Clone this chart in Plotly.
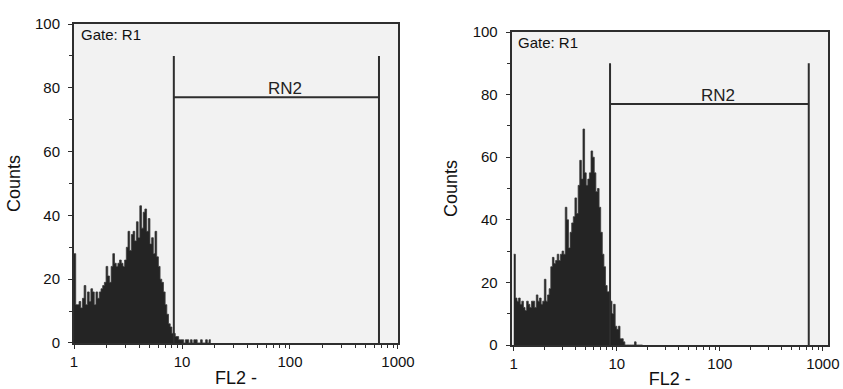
import math
import plotly.graph_objects as go

# Histogram counts per channel (64 channels per decade, starting at FL2 = 1)
channels_per_decade = 64
counts_left = [28, 12, 12, 13, 11, 14, 18, 12, 16, 13,
               17, 16, 12, 16, 14, 16, 17, 18, 19, 24,
               21, 19, 24, 28, 25, 24, 25, 26, 25, 24,
               26, 30, 35, 29, 34, 35, 32, 38, 33, 43,
               36, 41, 42, 35, 39, 31, 33, 28, 35, 27,
               24, 20, 19, 16, 12, 9, 6, 5, 3, 3,
               2, 2, 1, 1, 1, 0, 1, 1, 0, 1,
               0, 1, 1, 0, 0, 1, 0, 0, 1, 0, 1]
counts_right = [29, 15, 14, 15, 13, 14, 12, 11, 14, 13,
                12, 14, 14, 12, 16, 14, 15, 13, 14, 21,
                14, 16, 18, 25, 28, 26, 27, 29, 27, 29,
                30, 29, 44, 40, 31, 36, 39, 41, 47, 42,
                51, 59, 53, 69, 55, 51, 53, 55, 62, 60,
                55, 49, 50, 44, 36, 29, 25, 19, 17, 17,
                14, 10, 13, 6, 5, 6, 2, 2, 1, 0,
                0, 0, 0, 0, 0, 1, 0, 0, 0, 0]
# Gate marker RN2
gate_lo = [8.4, 8.6]
gate_hi = [667, 730]
gate_level = 77
gate_top = 90
gate_label = "RN2"
gate_name = "Gate: R1"

y_ticks = [0, 20, 40, 60, 80, 100]
x_ticks = [1, 10, 100, 1000]
x_minor = [m * d for d in (1, 10, 100) for m in range(2, 10)]

FONT = "Liberation Sans, Arial, sans-serif"
HIST_FILL = "#242424"
FRAME = "#2e2e2e"

fig = go.Figure()

panels = [
    dict(xa="x", ya="y", xd=[0.0878, 0.4721], yd=[0.1183, 0.9383], xr=[0, 3.0],
         counts=counts_left),
    dict(xa="x2", ya="y2", xd=[0.6070, 0.9822], yd=[0.1131, 0.9177], xr=[-0.02, 3.05],
         counts=counts_right),
]

for k, p in enumerate(panels):
    n = len(p["counts"])
    edges = [10 ** (i / channels_per_decade) for i in range(n + 1)]
    ys = list(p["counts"]) + [p["counts"][-1]]
    fig.add_trace(go.Scatter(
        x=edges, y=ys, mode="lines", line=dict(shape="hv", color="#3a3a3a", width=0.8),
        fill="tozeroy", fillcolor=HIST_FILL, xaxis=p["xa"], yaxis=p["ya"],
        showlegend=False, hoverinfo="skip"))
    lo, hi = gate_lo[k], gate_hi[k]
    for xv in (lo, hi):
        fig.add_shape(type="line", xref=p["xa"], yref=p["ya"], x0=xv, x1=xv, y0=0, y1=gate_top,
                      line=dict(color=FRAME, width=2))
    fig.add_shape(type="line", xref=p["xa"], yref=p["ya"], x0=lo, x1=hi, y0=gate_level, y1=gate_level,
                  line=dict(color=FRAME, width=2))
    # annotations on log axes take log10 positions
    mid_log = (math.log10(lo) + math.log10(hi)) / 2 + 0.08
    fig.add_annotation(x=mid_log, y=gate_level, xref=p["xa"], yref=p["ya"], text=gate_label,
                       showarrow=False, yanchor="bottom", yshift=-3,
                       font=dict(family=FONT, size=17, color="#222"))
    fig.add_annotation(x=0.015, y=1.0, xref=p["xa"] + " domain", yref=p["ya"] + " domain",
                       text=gate_name, showarrow=False, xanchor="left", yanchor="top",
                       font=dict(family=FONT, size=15, color="#111"))

    axis_common = dict(showline=True, mirror=True, linecolor=FRAME, linewidth=2,
                       showgrid=False, zeroline=False, ticks="outside", ticklen=4,
                       tickcolor=FRAME, automargin=False,
                       tickfont=dict(family=FONT, size=15, color="#111"))
    xkey = "xaxis" if k == 0 else "xaxis2"
    ykey = "yaxis" if k == 0 else "yaxis2"
    fig.update_layout(**{
        xkey: dict(type="log", range=p["xr"], domain=p["xd"], anchor=p["ya"],
                   tickvals=x_ticks, ticktext=[str(v) for v in x_ticks],
                   minor=dict(tickvals=x_minor, ticks="outside", ticklen=3, tickcolor=FRAME),
                   title=dict(text="FL2 -", font=dict(family=FONT, size=18, color="#111"), standoff=2),
                   **axis_common),
        ykey: dict(range=[0, 100], domain=p["yd"], anchor=p["xa"], ticklabelstandoff=5,
                   tickvals=y_ticks, minor=dict(dtick=10, ticks="outside", ticklen=3, tickcolor=FRAME),
                   title=dict(text="Counts", font=dict(family=FONT, size=18, color="#111"), standoff=10),
                   **axis_common),
    })

fig.update_layout(width=843, height=389, margin=dict(l=0, r=0, t=0, b=0),
                  paper_bgcolor="white", plot_bgcolor="#f2f2f2",
                  font=dict(family=FONT))

fig.write_html("out.html", config={"displayModeBar": False},
               post_script="document.body.style.margin='0';")
